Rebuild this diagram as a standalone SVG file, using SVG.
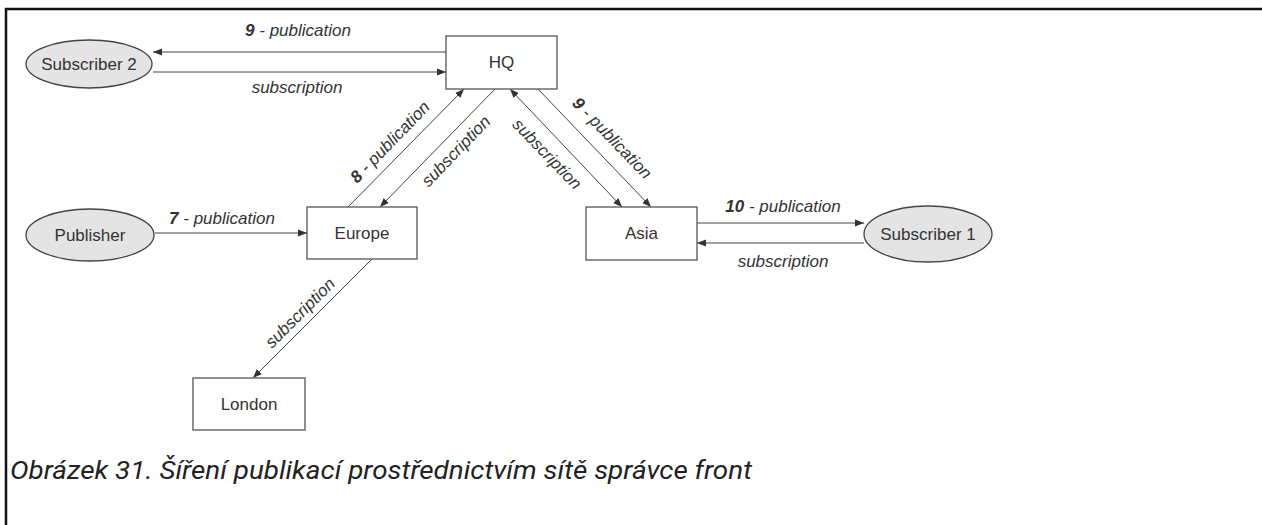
<svg xmlns="http://www.w3.org/2000/svg" width="1262" height="525" viewBox="0 0 1262 525">
<defs>
<marker id="ah" viewBox="0 0 10 10" refX="10" refY="5" markerWidth="9" markerHeight="9" markerUnits="userSpaceOnUse" orient="auto-start-reverse">
<path d="M0,1 L10,5 L0,9 z" fill="#333"/>
</marker>
<style>
.box{fill:#fff;stroke:#555;stroke-width:1.3}
.ell{fill:#e4e4e4;stroke:#444;stroke-width:1.3}
.nt{font-family:"Liberation Sans",Arial,sans-serif;font-size:17px;fill:#333;text-anchor:middle;dominant-baseline:central}
.lb{font-family:"Liberation Sans",Arial,sans-serif;font-size:17px;font-style:italic;fill:#333;text-anchor:middle}
.lb tspan.n{font-weight:bold}
.cn{stroke:#444;stroke-width:1;fill:none}
.cap{font-family:Roboto,"Liberation Sans",sans-serif;font-size:25px;font-style:italic;fill:#222}
</style>
</defs>
<rect x="0" y="0" width="1262" height="525" fill="#fff"/>
<path d="M6,525 V9 H1262" fill="none" stroke="#111" stroke-width="2.5"/>

<g id="connectors">
<line class="cn" x1="446" y1="52" x2="153" y2="52" marker-end="url(#ah)"/>
<line class="cn" x1="153" y1="72" x2="446" y2="72" marker-end="url(#ah)"/>
<line class="cn" x1="155" y1="233" x2="307" y2="233" marker-end="url(#ah)"/>
<line class="cn" x1="348" y1="207" x2="464" y2="89" marker-end="url(#ah)"/>
<line class="cn" x1="495" y1="89" x2="380" y2="207" marker-end="url(#ah)"/>
<line class="cn" x1="510" y1="89" x2="622" y2="207" marker-start="url(#ah)" marker-end="url(#ah)"/>
<line class="cn" x1="538" y1="89" x2="651" y2="207" marker-end="url(#ah)"/>
<line class="cn" x1="697" y1="223" x2="864" y2="223" marker-end="url(#ah)"/>
<line class="cn" x1="864" y1="243" x2="697" y2="243" marker-end="url(#ah)"/>
<line class="cn" x1="372" y1="259" x2="253" y2="378" marker-end="url(#ah)"/>
<text class="lb" x="298" y="36"><tspan class="n">9</tspan> - publication</text>
<text class="lb" x="297" y="93">subscription</text>
<text class="lb" x="222" y="224"><tspan class="n">7</tspan> - publication</text>
<text class="lb" x="783" y="212"><tspan class="n">10</tspan> - publication</text>
<text class="lb" x="783" y="267">subscription</text>
<text class="lb" transform="translate(394,146) rotate(-46)"><tspan class="n">8</tspan> - publication</text>
<text class="lb" transform="translate(460,155) rotate(-46)">subscription</text>
<text class="lb" transform="translate(543,158) rotate(46)">subscription</text>
<text class="lb" transform="translate(608,142) rotate(46)"><tspan class="n">9</tspan> - publication</text>
<text class="lb" transform="translate(304,317) rotate(-45)">subscription</text>
</g>

<g id="hq"><rect class="box" x="446" y="36" width="111" height="53"/><text class="nt" x="501.5" y="62.5">HQ</text></g>
<g id="subscriber2"><ellipse class="ell" cx="89" cy="64" rx="63" ry="24"/><text class="nt" x="89" y="64">Subscriber 2</text></g>
<g id="publisher"><ellipse class="ell" cx="90" cy="235" rx="64" ry="26"/><text class="nt" x="90" y="235">Publisher</text></g>
<g id="europe"><rect class="box" x="307" y="207" width="110" height="52"/><text class="nt" x="362" y="233">Europe</text></g>
<g id="asia"><rect class="box" x="586" y="207" width="111" height="53"/><text class="nt" x="641.5" y="233.5">Asia</text></g>
<g id="subscriber1"><ellipse class="ell" cx="928" cy="234" rx="64" ry="28"/><text class="nt" x="928" y="234">Subscriber 1</text></g>
<g id="london"><rect class="box" x="193" y="378" width="112" height="52"/><text class="nt" x="249" y="404">London</text></g>

<text class="cap" x="10" y="479" textLength="742" lengthAdjust="spacingAndGlyphs">Obrázek 31. Šíření publikací prostřednictvím sítě správce front</text>
</svg>
